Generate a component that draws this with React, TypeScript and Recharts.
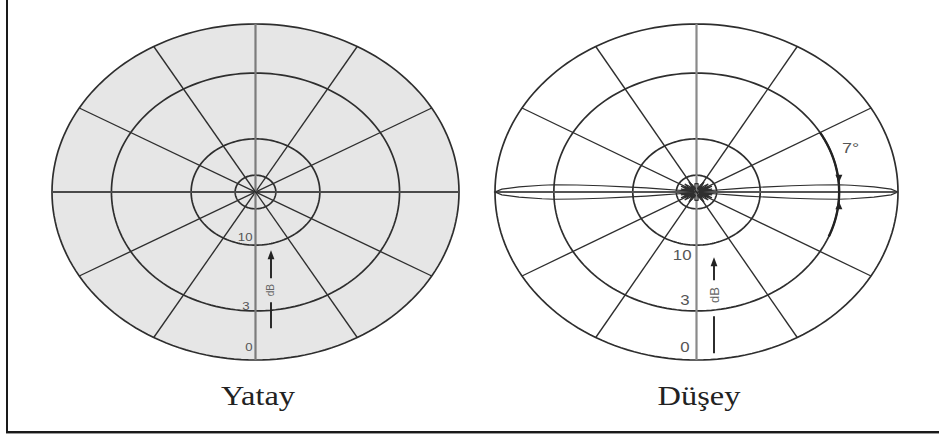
import React from 'react';
import { ComposedChart, Line, Area, XAxis, YAxis, ReferenceDot } from 'recharts';

// Radial grid levels, dB below the main-lobe peak
const RING_DB = [0, 3, 10, 20];
// Levels that carry a printed label on the lower vertical axis
const LABELED_DB = [0, 3, 10];
const RING_LABELS = ['0', '3', '10'];
// Grid spokes (full diameters), degrees
const SPOKE_ANGLES = [0, 30, 60, 90, 120, 150];

// Horizontal plane (azimuth): omnidirectional, gain in dB per azimuth
const H_AZIMUTH = [0, 10, 20, 30, 40, 50, 60, 70, 80, 90, 100, 110, 120, 130, 140, 150, 160, 170, 180,
  190, 200, 210, 220, 230, 240, 250, 260, 270, 280, 290, 300, 310, 320, 330, 340, 350, 360];
const H_GAIN_DB = [0, 0, 0, 0, 0, 0, 0, 0, 0, 0, 0, 0, 0, 0, 0, 0, 0, 0, 0,
  0, 0, 0, 0, 0, 0, 0, 0, 0, 0, 0, 0, 0, 0, 0, 0, 0, 0];

// Vertical plane (elevation): one quadrant, pattern is symmetric
const V_ELEVATION = [0, 1, 2, 3, 3.5, 4, 4.5, 5, 5.5, 6, 6.5, 7, 7.5, 8.5,
  10.5, 13, 15.5, 18, 21, 24, 28, 32, 35, 39, 44, 49, 53, 58, 65, 72, 77, 81, 86, 90];
const V_GAIN_DB = [0, -0.3, -1.1, -2.3, -3, -4.5, -6.5, -9, -12, -15.5, -19.5, -24, -30, -38,
  -27, -22, -25, -36, -25, -21.5, -25, -36, -26, -22.5, -26, -36, -27, -23, -27, -36, -29, -26, -26, -26];

// Half-power beamwidth of the vertical pattern
const BEAMWIDTH_DEG = 7;
const BEAMWIDTH_LABEL = '7°';

const TITLES = ['Yatay', 'Düşey'];

const rad = (deg: number) => (deg * Math.PI) / 180;
const gainToRadius = (gainDb: number) => Math.pow(10, gainDb / 20);
const polar = (r: number, deg: number) => ({ x: r * Math.cos(rad(deg)), y: r * Math.sin(rad(deg)) });

// Circle outlines sampled every 2 degrees
const CIRCLE_STEPS = Array.from({ length: 181 }, (_, i) => i * 2);
const ringData = (att: number) => CIRCLE_STEPS.map((a) => polar(gainToRadius(-att), a));
const arcData = (att: number, from: number, to: number) =>
  CIRCLE_STEPS.map((a) => from + ((to - from) * a) / 360).map((a) => polar(gainToRadius(-att), a));

// Omnidirectional pattern as a filled band [lower, upper] over x
const horizontalFill = H_AZIMUTH.filter((a) => a <= 180).map((a) => {
  const i = H_AZIMUTH.indexOf(a);
  const j = H_AZIMUTH.indexOf(360 - a);
  const top = polar(gainToRadius(H_GAIN_DB[i]), a);
  const bottom = polar(gainToRadius(H_GAIN_DB[j]), 360 - a);
  return { x: top.x, band: [bottom.y, top.y] };
});

// Full 360° vertical pattern mirrored from the quadrant table
const verticalPattern = (() => {
  const pts: { x: number; y: number }[] = [];
  const n = V_ELEVATION.length;
  for (let i = 0; i < n; i++) pts.push(polar(gainToRadius(V_GAIN_DB[i]), V_ELEVATION[i]));
  for (let i = n - 1; i >= 0; i--) pts.push(polar(gainToRadius(V_GAIN_DB[i]), 180 - V_ELEVATION[i]));
  for (let i = 0; i < n; i++) pts.push(polar(gainToRadius(V_GAIN_DB[i]), 180 + V_ELEVATION[i]));
  for (let i = n - 1; i >= 0; i--) pts.push(polar(gainToRadius(V_GAIN_DB[i]), 360 - V_ELEVATION[i]));
  return pts;
})();

const INK = '#2e2e2e';
const LABEL_FONT = '"Liberation Sans", Arial, sans-serif';
// The printed figure is widened horizontally; text follows the same aspect
const TEXT_STRETCH = 1.2;

type LabelPos = { dx: number; dy: number };
type ArrowPos = { dx: number; tip: number; shaftEnd: number; text: number; lowA: number; lowB: number; font: number };

const lineProps = {
  dataKey: 'y',
  type: 'linear' as const,
  dot: false,
  activeDot: false,
  isAnimationActive: false,
  legendType: 'none' as const,
};

function WideText(props: { x: number; y: number; anchor?: 'start' | 'middle' | 'end'; size: number; fill: string; children: React.ReactNode }) {
  return (
    <text transform={`translate(${props.x} ${props.y}) scale(${TEXT_STRETCH} 1)`} dy="0.35em"
      textAnchor={props.anchor || 'start'} fontFamily={LABEL_FONT} fontSize={props.size} fill={props.fill}>
      {props.children}
    </text>
  );
}

function gridSeries(prefix: string, verticalColor: string, horizontalColor: string) {
  const rings = RING_DB.map((att) => (
    <Line key={`${prefix}-ring-${att}`} {...lineProps} data={ringData(att)} stroke={INK} strokeWidth={1.7} />
  ));
  const spokes = SPOKE_ANGLES.map((a) => {
    const color = a === 90 ? verticalColor : a === 0 ? horizontalColor : INK;
    const w = a === 90 ? 2.2 : a === 0 ? 2 : 1.35;
    return (
      <Line key={`${prefix}-spoke-${a}`} {...lineProps} data={[polar(1, a), polar(1, a + 180)]}
        stroke={color} strokeWidth={w} />
    );
  });
  return [...rings, ...spokes];
}

function axisLabels(prefix: string, pos: LabelPos[], fontSize: number) {
  return LABELED_DB.map((att, i) => (
    <ReferenceDot key={`${prefix}-lbl-${att}`} x={0} y={-gainToRadius(-att)} r={0} ifOverflow="visible"
      shape={(p: any) => (
        <WideText x={p.cx + pos[i].dx} y={p.cy + pos[i].dy} anchor="end" size={fontSize} fill="#555">
          {RING_LABELS[i]}
        </WideText>
      )} />
  ));
}

function dbArrow(prefix: string, a: ArrowPos) {
  return (
    <ReferenceDot key={`${prefix}-arrow`} x={0} y={-gainToRadius(-10)} r={0} ifOverflow="visible"
      shape={(p: any) => {
        const x = p.cx + a.dx;
        const y = p.cy;
        return (
          <g>
            <path d={`M${x},${y + a.tip} L${x - 3.4},${y + a.tip + 9} L${x + 3.4},${y + a.tip + 9} Z`} fill="#222" />
            <line x1={x} y1={y + a.tip + 8} x2={x} y2={y + a.shaftEnd} stroke="#222" strokeWidth={1.9} />
            <text x={x} y={y + a.text} dy="0.35em" textAnchor="middle" fontFamily={LABEL_FONT}
              fontSize={a.font} fill="#666" transform={`rotate(-90 ${x} ${y + a.text})`}>dB</text>
            <line x1={x} y1={y + a.lowA} x2={x} y2={y + a.lowB} stroke="#222" strokeWidth={1.9} />
          </g>
        );
      }} />
  );
}

const CHART_H = 439;

export default function App() {
  const half = BEAMWIDTH_DEG / 2;
  const hp = polar(gainToRadius(-3), half);
  return (
    <div style={{ position: 'absolute', left: 0, top: 0, width: 939, height: 439, background: '#fff', overflow: 'hidden' }}>
      <div style={{
        position: 'absolute', left: 6, top: 0, width: 933, height: 431,
        borderLeft: '2px solid #1a1a1a', borderBottom: '2px solid #1a1a1a', boxShadow: '0 1px 0 #9a9a9a',
      }} />

      {/* Horizontal-plane pattern */}
      <div style={{ position: 'absolute', left: 0, top: 0 }}>
        <ComposedChart width={470} height={CHART_H} margin={{ top: 24, right: 11, bottom: 79, left: 52 }}>
          <XAxis type="number" dataKey="x" domain={[-1, 1]} hide />
          <YAxis type="number" dataKey="y" domain={[-1, 1]} hide />
          <Area data={horizontalFill} dataKey="band" type="linear" stroke="none" fill="#e6e6e6" fillOpacity={1}
            isAnimationActive={false} dot={false} activeDot={false} legendType="none" />
          {gridSeries('h', '#7c7c7c', '#4a4a4a')}
          {axisLabels('h', [{ dx: -3, dy: -13 }, { dx: -6, dy: -5 }, { dx: -3, dy: -8 }], 11)}
          {dbArrow('h', { dx: 15.5, tip: 5, shaftEnd: 33, text: 45, lowA: 57, lowB: 83, font: 10 })}
        </ComposedChart>
      </div>

      {/* Vertical-plane pattern */}
      <div style={{ position: 'absolute', left: 470, top: 0 }}>
        <ComposedChart width={469} height={CHART_H} margin={{ top: 24, right: 41, bottom: 79, left: 25 }}>
          <XAxis type="number" dataKey="x" domain={[-1, 1]} hide />
          <YAxis type="number" dataKey="y" domain={[-1, 1]} hide />
          {gridSeries('v', '#8a8a8a', '#555')}
          <Line {...lineProps} data={arcData(3, -22, 30)} stroke="#222" strokeWidth={2.4} />
          <Line {...lineProps} data={verticalPattern} stroke={INK} strokeWidth={1.2} />
          {axisLabels('v', [{ dx: -7, dy: -13 }, { dx: -7, dy: -11 }, { dx: -5, dy: 10 }], 14)}
          {dbArrow('v', { dx: 17.5, tip: 12, shaftEnd: 35, text: 50, lowA: 71, lowB: 108, font: 13 })}
          <ReferenceDot x={hp.x} y={hp.y} r={0} ifOverflow="visible"
            shape={(p: any) => (
              <g>
                <path d={`M${p.cx},${p.cy - 2} L${p.cx - 3.5},${p.cy - 10} L${p.cx + 3.5},${p.cy - 10} Z`} fill="#222" />
                <WideText x={p.cx + 3} y={p.cy - 37} size={15} fill="#555">{BEAMWIDTH_LABEL}</WideText>
              </g>
            )} />
          <ReferenceDot x={hp.x} y={-hp.y} r={0} ifOverflow="visible"
            shape={(p: any) => (
              <path d={`M${p.cx},${p.cy + 2} L${p.cx - 3.5},${p.cy + 10} L${p.cx + 3.5},${p.cy + 10} Z`} fill="#222" />
            )} />
        </ComposedChart>
      </div>

      {TITLES.map((t, i) => (
        <div key={t} style={{
          position: 'absolute', left: i === 0 ? 158 : 599, top: 381, width: 200, textAlign: 'center',
          fontFamily: '"Liberation Serif", "Times New Roman", serif', fontSize: 27, lineHeight: '30px', color: '#222',
          transform: `scaleX(${TEXT_STRETCH})`, transformOrigin: '50% 50%',
        }}>{t}</div>
      ))}
    </div>
  );
}
